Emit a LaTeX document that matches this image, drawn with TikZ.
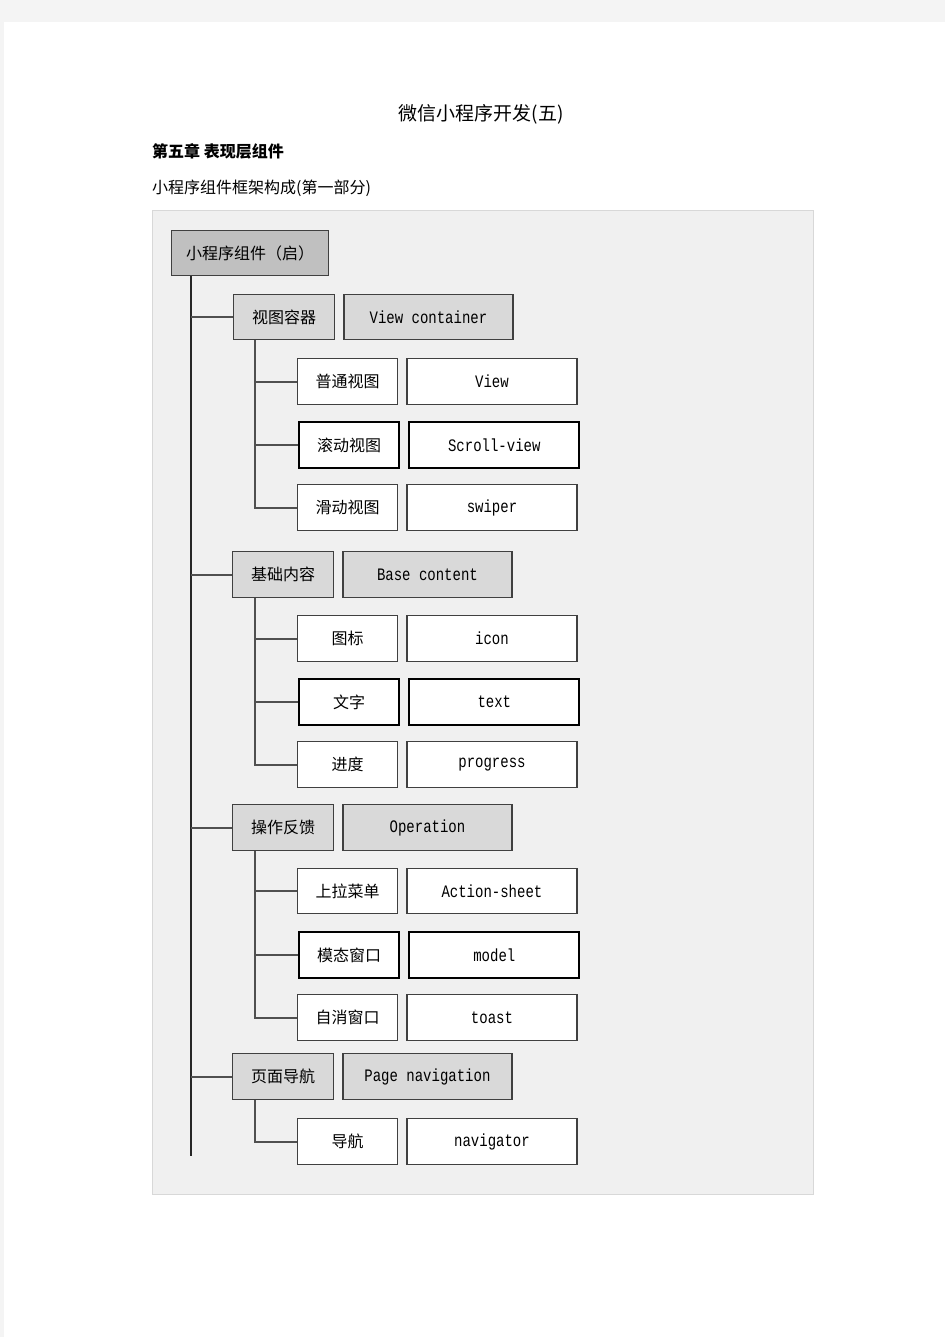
\documentclass[tikz,border=0pt]{standalone}
\usepackage{fontspec}
\setmainfont{Noto Sans CJK SC}
\newfontfamily\monofont[FakeStretch=0.8]{Liberation Mono}
\usetikzlibrary{positioning}
\definecolor{pagegray}{HTML}{F4F4F4}
\definecolor{panelfill}{HTML}{F0F0F0}
\definecolor{paneledge}{HTML}{D8D8D8}
\definecolor{rootfill}{HTML}{C0C0C0}
\definecolor{groupfill}{HTML}{D9D9D9}
\definecolor{boxline}{HTML}{404040}
\definecolor{linegray}{HTML}{505050}
\tikzset{
  box/.style={draw=boxline, line width=1.3pt, rectangle, inner sep=0pt,
    minimum height=46pt, anchor=north west, font=\fontsize{16}{16}\selectfont},
  rootbox/.style={box, fill=rootfill, minimum width=157pt, minimum height=45pt},
  groupbox/.style={box, fill=groupfill, minimum width=101pt},
  leafbox/.style={box, fill=white, minimum width=100pt},
  enbox/.style={minimum width=170pt, font=\monofont\fontsize{17.5}{17.5}\selectfont},
  thickbox/.style={draw=black, line width=2.2pt},
  link/.style={draw=linegray, line width=1.8pt},
  trunk/.style={draw=black!85, line width=1.6pt},
}

\begin{document}
\begin{tikzpicture}[x=1pt,y=-1pt]
    \useasboundingbox (0,0) rectangle (945,1337);
    \fill[pagegray] (0,0) rectangle (945,1337);
    \fill[white] (4,22) rectangle (945,1337);

    \node (title) at (481,114) {\fontsize{19}{19}\selectfont 微信小程序开发(五)};
    \node (chap) [anchor=west, inner sep=0pt] at (152,151) {\fontsize{16}{16}\selectfont\bfseries 第五章\ 表现层组件};
    \node (cap) [anchor=west, inner sep=0pt] at (152,188) {\fontsize{16}{16}\selectfont 小程序组件框架构成(第一部分)};

    \draw[paneledge, fill=panelfill, line width=1pt] (152,211) rectangle (813,1194);

    \node (root) [rootbox] at (171,230) {小程序组件（启）};

    % view containers
    \node (vc) [groupbox, minimum height=45pt] at (233,294) {视图容器};
    \node (vcEn) [groupbox, enbox, minimum width=169pt, minimum height=45pt, right=8pt of vc] {View container};
    \node (view) [leafbox] at (297,358) {普通视图};
    \node (viewEn) [leafbox, enbox, right=8pt of view] {View};
    \node (scroll) [leafbox, thickbox] at (298,421) {滚动视图};
    \node (scrollEn) [leafbox, enbox, thickbox, right=8pt of scroll] {Scroll-view};
    \node (swiper) [leafbox] at (297,484) {滑动视图};
    \node (swiperEn) [leafbox, enbox, right=8pt of swiper] {swiper};

    % base content
    \node (bc) [groupbox] at (232,551) {基础内容};
    \node (bcEn) [groupbox, enbox, minimum width=169pt, right=8pt of bc] {Base content};
    \node (icon) [leafbox] at (297,615) {图标};
    \node (iconEn) [leafbox, enbox, right=8pt of icon] {icon};
    \node (text) [leafbox, thickbox] at (298,678) {文字};
    \node (textEn) [leafbox, enbox, thickbox, right=8pt of text] {text};
    \node (prog) [leafbox] at (297,741) {进度};
    \node (progEn) [leafbox, enbox, right=8pt of prog] {progress};

    % operation feedback
    \node (op) [groupbox] at (232,804) {操作反馈};
    \node (opEn) [groupbox, enbox, minimum width=169pt, right=8pt of op] {Operation};
    \node (sheet) [leafbox, minimum height=45pt] at (297,868) {上拉菜单};
    \node (sheetEn) [leafbox, enbox, minimum height=45pt, right=8pt of sheet] {Action-sheet};
    \node (modal) [leafbox, thickbox] at (298,931) {模态窗口};
    \node (modalEn) [leafbox, enbox, thickbox, right=8pt of modal] {model};
    \node (toast) [leafbox] at (297,994) {自消窗口};
    \node (toastEn) [leafbox, enbox, right=8pt of toast] {toast};

    % page navigation
    \node (pn) [groupbox] at (232,1053) {页面导航};
    \node (pnEn) [groupbox, enbox, minimum width=169pt, right=8pt of pn] {Page navigation};
    \node (nav) [leafbox] at (297,1118) {导航};
    \node (navEn) [leafbox, enbox, right=8pt of nav] {navigator};

    % trunks
    \coordinate (t0) at ([xshift=20pt]root.south west);
    \coordinate (tEnd) at (191,1156);
    \coordinate (s1) at ([xshift=22pt]vc.south west);
    \coordinate (s2) at ([xshift=23pt]bc.south west);
    \coordinate (s3) at ([xshift=23pt]op.south west);
    \coordinate (s4) at ([xshift=23pt]pn.south west);

    \path [trunk] (t0) -- (tEnd);
    \path [link] (vc.west) -- (vc.west -| t0);
    \path [link] (bc.west) -- (bc.west -| t0);
    \path [link] (op.west) -- (op.west -| t0);
    \path [link] (pn.west) -- (pn.west -| t0);

    \path [link] (s1) |- (swiper.west);
    \path [link] (view.west) -- (view.west -| s1);
    \path [link] (scroll.west) -- (scroll.west -| s1);
    \path [link] (s2) |- (prog.west);
    \path [link] (icon.west) -- (icon.west -| s2);
    \path [link] (text.west) -- (text.west -| s2);
    \path [link] (s3) |- (toast.west);
    \path [link] (sheet.west) -- (sheet.west -| s3);
    \path [link] (modal.west) -- (modal.west -| s3);
    \path [link] (s4) |- (nav.west);
\end{tikzpicture}
\end{document}
